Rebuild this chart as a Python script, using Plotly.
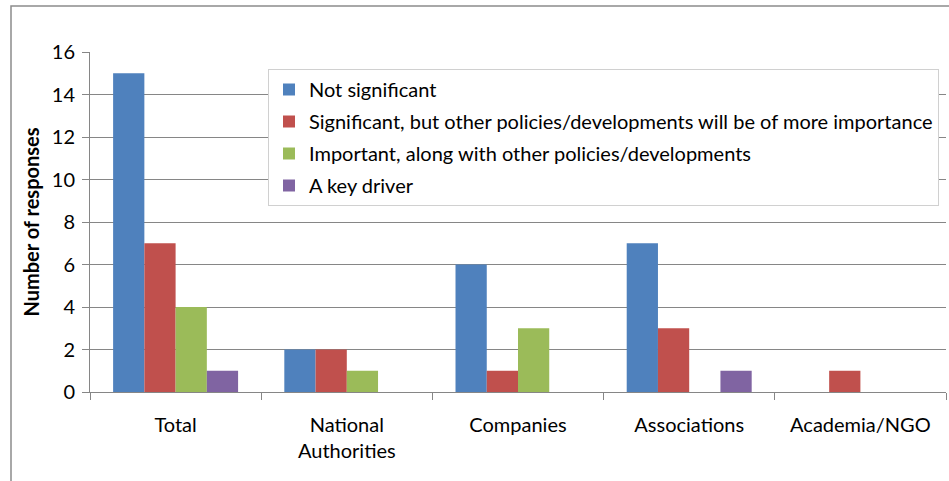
import plotly.graph_objects as go

categories = ["Total", "National<br>Authorities", "Companies", "Associations", "Academia/NGO"]
series_names = [
    "Not significant",
    "Significant, but other policies/developments will be of more importance",
    "Important, along with other policies/developments",
    "A key driver",
]
not_significant = [15, 2, 6, 7, 0]
significant_other = [7, 2, 1, 3, 1]
important_along = [4, 1, 3, 0, 0]
key_driver = [1, 0, 0, 1, 0]
colors = ["#4F81BD", "#C0504D", "#9BBB59", "#8064A2"]
y_ticks = [0, 2, 4, 6, 8, 10, 12, 14, 16]

FONT = "Lato, Roboto, 'Noto Sans', sans-serif"
FS = 20

fig = go.Figure()
for i, (name, vals) in enumerate(zip(series_names,
                                     [not_significant, significant_other, important_along, key_driver])):
    fig.add_trace(go.Bar(x=categories, y=vals, name=name, marker_color=colors[i],
                         marker_line_width=0, legendgroup=f"g{i}"))

L, R, T, B = 90, 3, 52, 89
W, H = 949, 481
pw = W - L - R
ph = H - T - B

fig.update_layout(
    width=W, height=H,
    margin=dict(l=L, r=R, t=T, b=B),
    paper_bgcolor="white", plot_bgcolor="white",
    barmode="group", bargap=0.27, bargroupgap=0,
    font=dict(family=FONT, size=FS, color="#000000"),
    showlegend=True,
    legend=dict(
        x=(268 - L) / pw, y=(H - B - 69) / ph, xanchor="left", yanchor="top",
        bordercolor="#D0D0D0", borderwidth=1, bgcolor="white",
        font=dict(family=FONT, size=FS, color="#000000"),
        tracegroupgap=3, itemwidth=30,
    ),
    xaxis=dict(
        type="category", showgrid=False, showline=True, linecolor="#868686", linewidth=1,
        ticks="outside", tickson="boundaries", ticklen=7, tickcolor="#868686",
        tickfont=dict(family=FONT, size=FS), ticklabelstandoff=15,
    ),
    yaxis=dict(
        range=[0, 16], tickvals=y_ticks, showgrid=True, gridcolor="#868686", gridwidth=1,
        showline=True, linecolor="#868686", linewidth=1, zeroline=False,
        ticks="outside", ticklen=7, tickcolor="#868686",
        tickfont=dict(family=FONT, size=FS), ticklabelstandoff=3,
        title=dict(text="<b>Number of responses</b>", font=dict(family=FONT, size=FS), standoff=6),
    ),
    shapes=[dict(
        type="rect", xref="paper", yref="paper",
        x0=(11 - L) / pw, x1=1.05, y0=-0.5, y1=(H - B - 6) / ph,
        line=dict(color="#8C8C8C", width=1.5), fillcolor="rgba(0,0,0,0)", layer="below",
    )],
)

fig.write_html("out.html", config={"displayModeBar": False},
               post_script="document.body.style.margin='0';document.body.style.overflow='hidden';")
